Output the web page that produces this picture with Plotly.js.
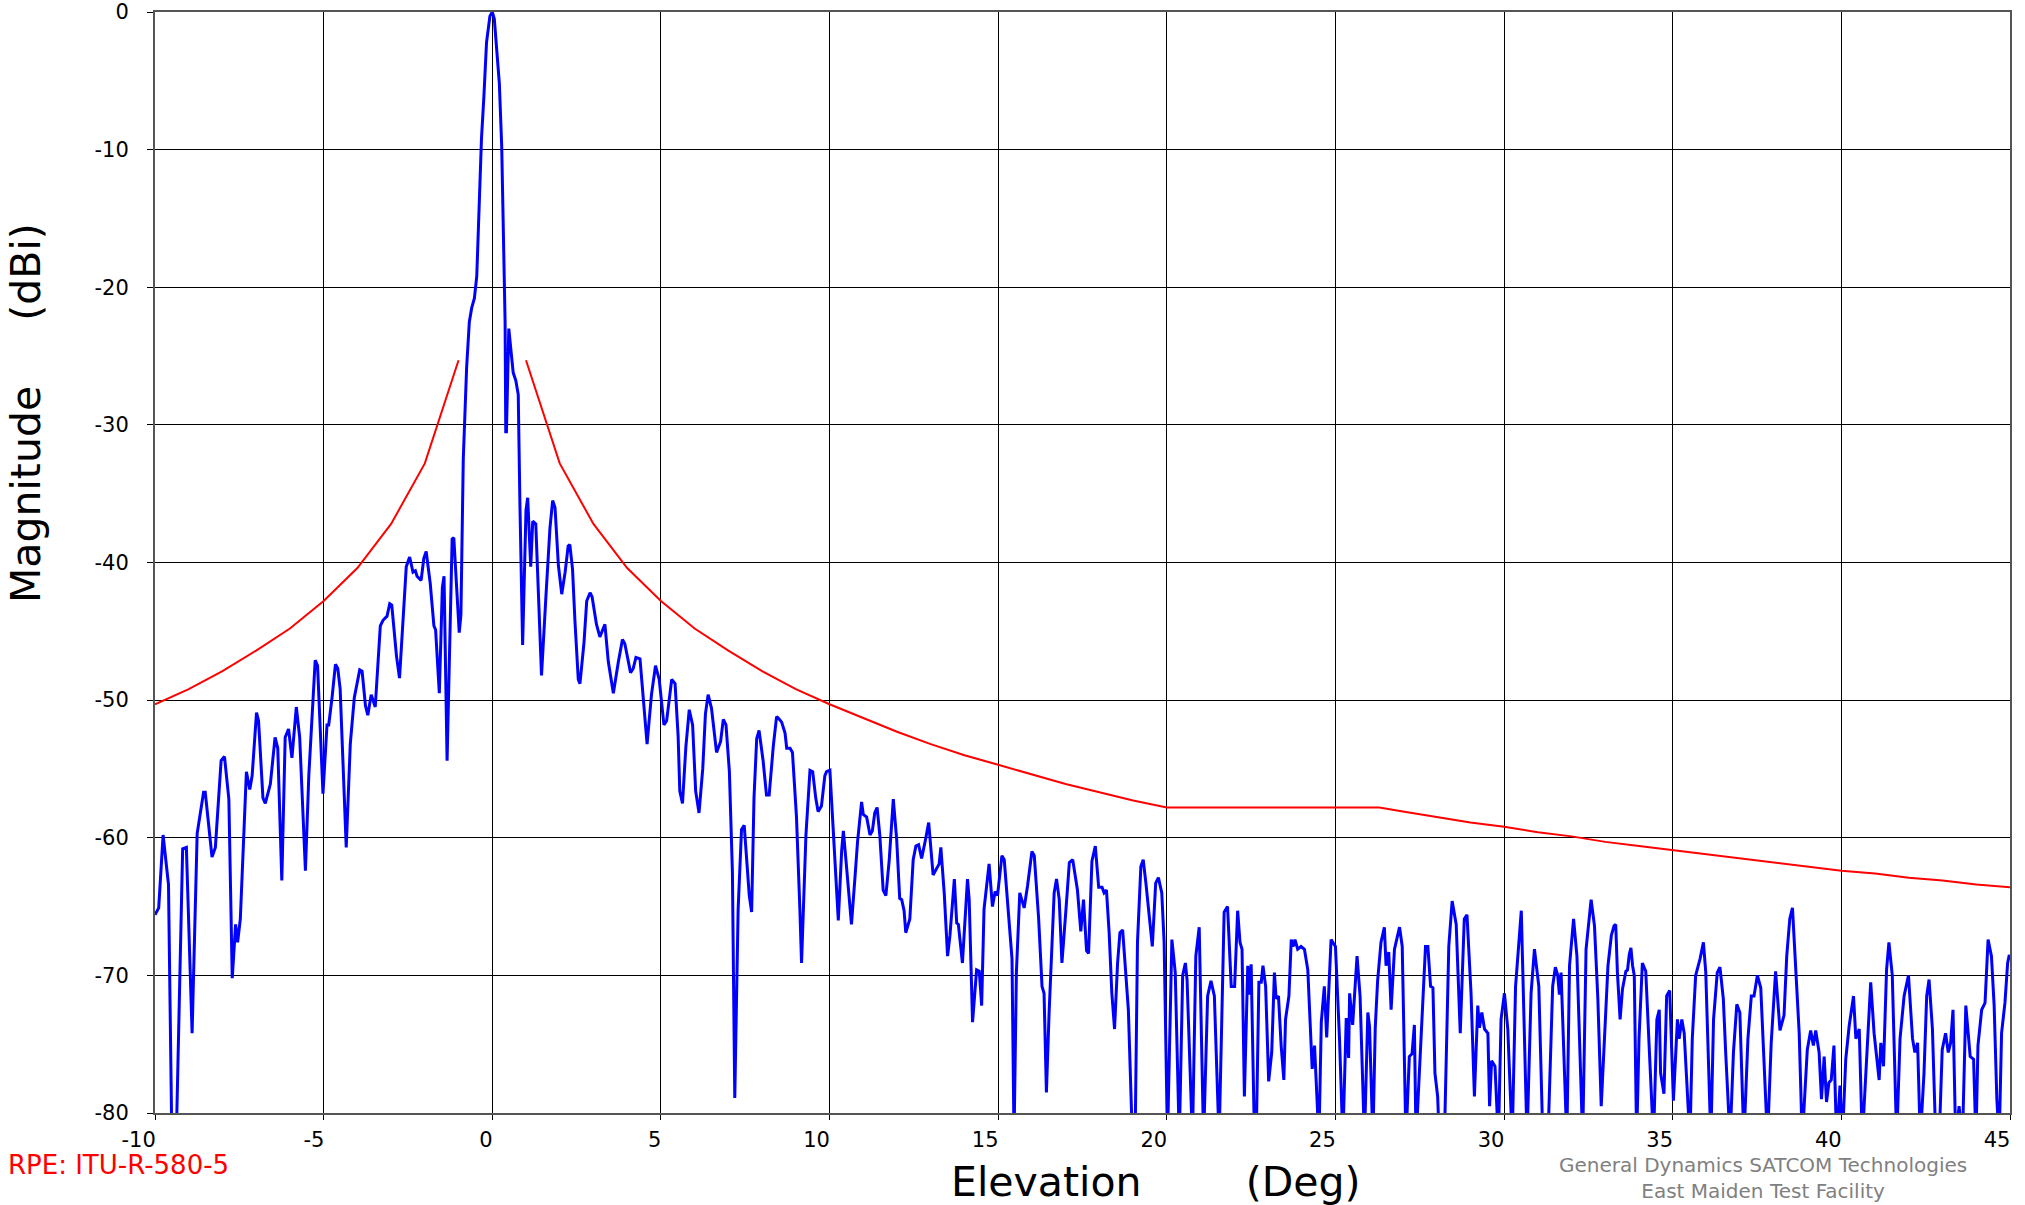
<!DOCTYPE html>
<html>
<head>
<meta charset="utf-8">
<script src="https://cdn.plot.ly/plotly-3.0.1.min.js"></script>
<style>
  html, body { margin: 0; padding: 0; background: #ffffff; }
  #chart { width: 2025px; height: 1205px; }
</style>
</head>
<body>
<div id="chart"></div>
<script>
const patternA = [[-10.0,-65.6],[-9.89,-65.1],[-9.76,-59.8],[-9.60,-63.4],[-9.50,-82],[-9.37,-82],[-9.18,-60.8],[-9.07,-60.7],[-8.90,-74.2],[-8.75,-59.7],[-8.56,-56.7],[-8.51,-56.7],[-8.31,-61.4],[-8.21,-60.7],[-8.04,-54.4],[-7.94,-54.1],[-7.81,-57.2],[-7.71,-70.2],[-7.61,-66.3],[-7.55,-67.6],[-7.47,-65.9],[-7.29,-55.2],[-7.19,-56.5],[-7.12,-55.5],[-6.99,-50.9],[-6.93,-51.5],[-6.80,-57.1],[-6.73,-57.5],[-6.58,-56.1],[-6.44,-52.7],[-6.36,-53.5],[-6.24,-63.1],[-6.14,-52.7],[-6.04,-52.1],[-5.94,-54.2],[-5.81,-50.5],[-5.71,-52.7],[-5.54,-62.4],[-5.44,-55.5],[-5.25,-47.1],[-5.18,-47.5],[-5.02,-56.8],[-4.90,-51.8],[-4.85,-51.8],[-4.75,-49.8],[-4.65,-47.4],[-4.58,-47.7],[-4.51,-49.2],[-4.33,-60.7],[-4.21,-53.2],[-4.09,-49.8],[-3.93,-47.8],[-3.86,-47.9],[-3.76,-50.4],[-3.69,-51.1],[-3.59,-49.6],[-3.47,-50.5],[-3.32,-44.6],[-3.24,-44.2],[-3.12,-43.9],[-3.04,-43.0],[-2.98,-43.1],[-2.84,-46.8],[-2.75,-48.4],[-2.55,-40.3],[-2.45,-39.6],[-2.35,-40.7],[-2.28,-40.6],[-2.23,-41.0],[-2.11,-41.3],[-2.03,-39.7],[-1.96,-39.2],[-1.84,-41.5],[-1.73,-44.6],[-1.68,-44.9],[-1.57,-49.5],[-1.48,-41.8],[-1.43,-41.0],[-1.34,-54.4],[-1.19,-38.3],[-1.14,-38.2],[-0.98,-45.1],[-0.93,-43.8]];
const patternB = [[-0.86,-32.5],[-0.76,-25.8],[-0.68,-22.5],[-0.61,-21.5],[-0.53,-20.8],[-0.46,-19.2],[-0.39,-14.2],[-0.32,-9.2],[-0.25,-6.2],[-0.17,-2.2],[-0.07,-0.3],[0.0,0.0],[0.06,-0.5],[0.13,-2.5],[0.21,-5.2],[0.28,-9.8],[0.33,-15.8],[0.38,-22.5],[0.40,-30.5],[0.42,-30.5],[0.49,-23.0],[0.55,-24.5],[0.62,-26.2],[0.70,-26.8],[0.77,-27.8],[0.82,-35.8],[0.90,-46.0],[1.00,-36.2],[1.05,-35.3],[1.14,-40.3],[1.20,-37.0],[1.29,-37.2],[1.38,-43.5],[1.46,-48.2],[1.59,-42.5],[1.71,-37.5],[1.79,-35.5],[1.86,-36.0],[1.96,-40.2],[2.06,-42.3],[2.16,-40.7],[2.25,-38.8],[2.30,-38.7],[2.38,-40.5],[2.45,-44.2],[2.55,-48.5],[2.60,-48.8],[2.72,-45.8],[2.80,-42.8],[2.90,-42.2],[2.96,-42.5],[3.09,-44.5]];
const patternC = [[3.19,-45.4],[3.34,-44.5],[3.44,-47.2],[3.59,-49.5],[3.74,-47.2],[3.86,-45.6],[3.93,-45.9],[4.10,-48.0],[4.18,-47.7],[4.26,-46.9],[4.38,-47.0],[4.48,-50.1],[4.59,-53.2],[4.72,-49.6],[4.84,-47.5],[4.95,-48.5],[5.09,-51.8],[5.17,-51.5],[5.32,-48.5],[5.42,-48.8],[5.51,-52.6],[5.56,-56.6],[5.64,-57.5],[5.74,-53.4],[5.84,-50.7],[5.94,-51.8],[6.03,-56.6],[6.13,-58.2],[6.24,-55.0],[6.32,-51.0],[6.40,-49.6],[6.50,-50.6],[6.57,-52.3],[6.65,-53.8],[6.77,-53.0],[6.85,-51.4],[6.93,-51.8],[7.03,-55.2],[7.12,-62.5],[7.19,-78.9],[7.29,-65.2],[7.39,-59.4],[7.47,-59.1],[7.54,-61.2],[7.62,-64.2],[7.69,-65.4],[7.76,-57.1],[7.84,-52.8],[7.91,-52.2],[8.03,-54.4],[8.13,-56.9],[8.21,-56.9],[8.33,-53.4],[8.43,-51.2],[8.48,-51.3],[8.58,-51.6],[8.68,-52.4],[8.73,-53.5],[8.83,-53.5],[8.90,-53.8],[9.02,-58.5],[9.12,-65.2],[9.17,-69.1],[9.30,-59.8],[9.42,-55.1],[9.50,-55.2],[9.59,-57.1],[9.66,-58.1],[9.76,-57.7],[9.86,-55.5],[9.91,-55.2],[10.01,-55.1],[10.11,-59.8],[10.26,-66.0],[10.36,-60.9],[10.41,-59.5],[10.50,-62.0],[10.58,-64.1],[10.65,-66.3],[10.75,-63.0],[10.83,-60.3],[10.95,-57.4],[11.00,-58.3],[11.10,-58.5],[11.20,-59.8],[11.27,-59.5],[11.34,-58.2],[11.41,-57.8],[11.49,-59.8],[11.59,-63.8],[11.67,-64.2]];
const patternD = [[11.77,-61.6],[11.89,-57.2],[11.99,-60.1],[12.08,-64.4],[12.14,-64.5],[12.21,-65.3],[12.26,-66.9],[12.38,-65.9],[12.48,-61.6],[12.56,-60.6],[12.64,-60.5],[12.73,-61.5],[12.84,-60.2],[12.94,-58.9],[13.07,-62.7],[13.25,-61.9],[13.30,-60.7],[13.40,-64.0],[13.50,-68.6],[13.57,-67.1],[13.70,-63.0],[13.77,-66.2],[13.82,-66.3],[13.94,-69.1],[14.09,-63.0],[14.14,-64.5],[14.24,-73.4],[14.36,-69.6],[14.44,-69.7],[14.51,-72.2],[14.58,-65.2],[14.73,-61.9],[14.83,-65.0],[14.91,-63.9],[14.98,-64.2],[15.11,-61.3],[15.18,-61.6],[15.33,-65.9],[15.41,-68.8],[15.47,-82],[15.54,-69.8],[15.64,-64.0],[15.77,-65.1],[15.87,-63.5],[16.00,-61.0],[16.07,-61.3],[16.20,-65.9],[16.30,-70.8],[16.36,-71.3],[16.43,-78.5],[16.51,-72.7],[16.66,-64.0],[16.73,-63.0],[16.81,-64.5],[16.89,-69.1],[17.01,-65.2],[17.11,-61.8],[17.21,-61.6],[17.35,-63.8],[17.45,-66.8],[17.53,-64.5],[17.62,-68.2],[17.68,-68.4],[17.78,-61.7],[17.88,-60.6],[17.98,-63.6],[18.08,-63.6],[18.14,-64.0],[18.21,-63.8],[18.29,-66.9],[18.37,-71.3],[18.45,-73.9],[18.54,-69.1],[18.61,-66.9],[18.69,-66.7],[18.86,-72.5],[18.98,-82],[19.06,-82],[19.13,-67.6],[19.23,-62.1],[19.30,-61.6],[19.38,-63.3],[19.45,-65.0],[19.57,-67.9],[19.67,-63.3],[19.75,-62.9],[19.85,-64.0],[19.92,-67.6],[20.02,-82],[20.15,-67.4],[20.25,-69.8],[20.37,-82],[20.47,-70.0],[20.55,-69.1],[20.60,-70.3],[20.76,-82],[20.86,-68.6],[20.96,-66.5],[21.09,-82],[21.21,-71.5],[21.31,-70.4],[21.41,-71.5],[21.55,-82],[21.70,-65.4],[21.80,-65.0]];
const patternE = [[21.91,-70.8],[22.01,-70.8],[22.10,-65.3],[22.17,-67.6],[22.23,-68.1],[22.30,-78.8],[22.40,-69.3],[22.45,-71.4],[22.50,-69.2],[22.60,-82],[22.65,-82],[22.73,-70.5],[22.80,-70.5],[22.85,-69.3],[22.93,-70.8],[23.02,-77.7],[23.11,-75.6],[23.19,-69.8],[23.24,-71.7],[23.31,-71.5],[23.39,-75.1],[23.47,-77.6],[23.52,-73.2],[23.62,-71.5],[23.69,-67.4],[23.74,-67.9],[23.80,-67.4],[23.88,-68.1],[23.98,-67.9],[24.08,-68.1],[24.18,-69.6],[24.31,-76.8],[24.38,-75.1],[24.51,-82],[24.58,-73.4],[24.67,-70.8],[24.74,-74.5],[24.87,-67.4],[25.00,-67.9],[25.12,-74.6],[25.22,-82],[25.32,-73.1],[25.39,-76.0],[25.42,-71.3],[25.51,-73.6],[25.64,-68.6],[25.73,-71.5],[25.86,-82],[25.96,-72.7],[26.01,-73.7],[26.11,-82],[26.18,-73.8],[26.25,-70.4],[26.35,-67.6],[26.45,-66.5],[26.50,-69.3],[26.58,-68.3],[26.65,-72.5],[26.75,-68.1],[26.90,-66.5],[26.98,-67.9],[27.09,-82],[27.19,-75.9],[27.27,-75.7],[27.34,-73.6],[27.39,-82],[27.51,-75.6],[27.67,-67.9],[27.74,-67.9],[27.82,-70.8],[27.89,-70.9],[27.95,-77.1],[28.03,-78.8],[28.08,-82],[28.23,-82],[28.36,-67.9],[28.46,-64.6],[28.58,-66.3],[28.70,-74.2],[28.82,-65.9],[28.90,-65.6],[29.02,-71.3],[29.12,-78.8],[29.22,-72.2],[29.27,-73.8],[29.34,-72.7],[29.42,-73.9],[29.52,-74.2],[29.57,-79.5],[29.63,-76.2],[29.73,-76.6],[29.83,-82],[29.91,-73.2],[30.01,-71.3],[30.11,-73.9],[30.24,-82],[30.34,-70.8],[30.51,-65.3],[30.68,-82],[30.80,-71.3],[30.90,-68.1],[31.03,-70.8],[31.15,-82],[31.30,-82],[31.44,-70.8],[31.52,-69.4],[31.59,-70.0],[31.64,-71.4],[31.69,-69.8],[31.86,-82],[31.94,-69.3],[32.06,-65.9],[32.16,-68.6],[32.33,-82],[32.43,-68.1],[32.58,-64.5],[32.68,-66.4],[32.78,-71.7],[32.88,-79.5],[32.98,-74.6],[33.08,-69.3],[33.18,-67.1]];
const patternF = [[33.26,-66.4],[33.31,-66.3],[33.36,-69.8],[33.44,-73.2],[33.51,-71.0],[33.61,-69.7],[33.66,-69.6],[33.71,-68.5],[33.76,-68.0],[33.81,-69.3],[33.86,-70.0],[33.93,-82],[34.00,-74.6],[34.10,-69.1],[34.20,-69.7],[34.30,-75.1],[34.43,-82],[34.53,-73.2],[34.60,-72.5],[34.64,-77.1],[34.74,-78.6],[34.82,-71.5],[34.91,-71.1],[35.02,-79.1],[35.14,-73.2],[35.19,-74.6],[35.27,-73.2],[35.34,-74.2],[35.43,-78.3],[35.51,-82],[35.58,-74.6],[35.68,-70.0],[35.81,-68.8],[35.91,-67.6],[35.98,-69.8],[36.13,-82],[36.21,-73.2],[36.32,-69.8],[36.40,-69.4],[36.50,-71.7],[36.57,-75.6],[36.70,-82],[36.80,-75.6],[36.90,-72.1],[36.99,-72.7],[37.11,-82],[37.23,-74.6],[37.33,-71.5],[37.41,-71.5],[37.51,-70.0],[37.61,-70.9],[37.69,-75.4],[37.81,-82],[37.92,-74.9],[38.05,-69.7],[38.18,-74.0],[38.30,-72.9],[38.38,-68.6],[38.47,-65.9],[38.55,-65.1],[38.65,-69.8],[38.75,-74.2],[38.84,-82],[38.91,-79.0],[38.99,-75.4],[39.09,-74.0],[39.17,-75.1],[39.24,-74.0],[39.34,-75.6],[39.41,-79.0],[39.49,-75.9],[39.56,-79.2],[39.63,-77.8],[39.70,-77.6],[39.78,-75.1],[39.86,-82],[39.96,-78.0],[40.03,-82],[40.13,-76.1],[40.23,-73.7],[40.36,-71.5],[40.43,-74.6],[40.53,-73.9],[40.62,-82],[40.75,-75.6],[40.87,-70.5],[40.97,-74.2],[41.12,-77.6],[41.17,-74.9],[41.25,-76.6],[41.34,-69.6],[41.41,-67.6],[41.51,-70.0],[41.64,-82],[41.74,-74.6],[41.86,-71.5],[41.99,-70.0],[42.11,-74.6],[42.18,-75.6],[42.26,-74.9],[42.34,-82],[42.45,-77.1],[42.53,-71.5],[42.60,-70.3],[42.70,-73.9],[42.80,-82],[42.90,-82],[42.99,-75.4],[43.09,-74.2],[43.17,-75.6],[43.24,-74.9],[43.31,-72.5],[43.39,-82],[43.49,-79.5],[43.59,-82],[43.69,-72.2],[43.82,-75.9],[43.92,-76.1],[43.99,-82],[44.05,-75.1],[44.16,-72.5],[44.26,-72.0],[44.35,-67.4],[44.45,-68.6],[44.53,-72.2],[44.61,-79.0],[44.68,-82],[44.75,-74.2],[44.85,-72.0],[44.93,-69.1],[44.98,-68.5]];

// ITU-R 580-5 envelope (RPE)
const maskLeftX = [-10, -9, -8, -7, -6, -5, -4, -3, -2, -1];
const maskLeftY = [-50.3, -49.2, -47.9, -46.4, -44.8, -42.8, -40.4, -37.2, -32.8, -25.3];
const maskRightX = [1, 2, 3, 4, 5, 6, 7, 8, 9, 10, 11, 12, 13, 14, 15, 16, 17, 18, 19, 20, 26.3, 27, 28, 29, 30, 31, 32, 33, 34, 35, 36, 37, 38, 39, 40, 41, 42, 43, 44, 45];
const maskRightY = [-25.3, -32.8, -37.2, -40.4, -42.8, -44.8, -46.4, -47.9, -49.2, -50.3, -51.3, -52.3, -53.2, -54.0, -54.7, -55.4, -56.1, -56.7, -57.3, -57.8, -57.8, -58.1, -58.5, -58.9, -59.2, -59.6, -59.9, -60.3, -60.6, -60.9, -61.2, -61.5, -61.8, -62.1, -62.4, -62.6, -62.9, -63.1, -63.4, -63.6];

// Tick labels
const xTickVals = [-10, -5, 0, 5, 10, 15, 20, 25, 30, 35, 40, 45];
const xTickText = ['-10', '-5', '0', '5', '10', '15', '20', '25', '30', '35', '40', '45'];
const yTickVals = [0, -10, -20, -30, -40, -50, -60, -70, -80];
const yTickText = ['0', '-10', '-20', '-30', '-40', '-50', '-60', '-70', '-80'];

// x tick labels sit right-aligned to their grid line: a common left shift, plus
// no-break-space padding to even out the label widths
const NB = '\u00A0';
const leadPad = { '-5': 1, '0': 2, '5': 2 };
const trailPad = { '-10': 1 };
const xTickShown = xTickText.map(t => NB.repeat(leadPad[t] || 0) + t + NB.repeat(trailPad[t] || 0));

const pattern = [].concat(patternA, patternB, patternC, patternD, patternE, patternF);
const patX = pattern.map(p => p[0]);
const patY = pattern.map(p => p[1]);

const FONT = 'DejaVu Sans, Verdana, Arial, sans-serif';

const traces = [
  { x: maskLeftX, y: maskLeftY, type: 'scatter', mode: 'lines',
    line: { color: '#FF0000', width: 2 }, hoverinfo: 'skip' },
  { x: maskRightX, y: maskRightY, type: 'scatter', mode: 'lines',
    line: { color: '#FF0000', width: 2 }, hoverinfo: 'skip' },
  { x: patX, y: patY, type: 'scatter', mode: 'lines',
    line: { color: '#0000FF', width: 3 }, hoverinfo: 'skip' }
];

const layout = {
  width: 2025, height: 1205,
  margin: { l: 155, r: 15, t: 12, b: 92, pad: 0 },
  paper_bgcolor: '#ffffff', plot_bgcolor: '#ffffff',
  showlegend: false,
  xaxis: {
    range: [-10, 45], tickmode: 'array', tickvals: xTickVals, ticktext: xTickShown,
    showgrid: true, gridcolor: '#000000', gridwidth: 1,
    zeroline: false, showline: true, mirror: true, linecolor: '#555555', linewidth: 2,
    ticks: 'outside', ticklen: 5, tickcolor: '#000000',
    tickfont: { family: FONT, size: 21, color: '#000000' },
    ticklabelstandoff: 2, ticklabelshift: -13, ticklabeloverflow: 'allow'
  },
  yaxis: {
    range: [-80, 0], tickmode: 'array', tickvals: yTickVals, ticktext: yTickText,
    showgrid: true, gridcolor: '#000000', gridwidth: 1,
    zeroline: false, showline: true, mirror: true, linecolor: '#555555', linewidth: 2,
    ticks: 'outside', ticklen: 6, tickcolor: '#000000',
    tickfont: { family: FONT, size: 21, color: '#000000' },
    ticklabelstandoff: 14, ticklabeloverflow: 'allow'
  },
  annotations: [
    { xref: 'paper', yref: 'paper', x: 0.5396, y: -0.0627, xanchor: 'center', yanchor: 'middle',
      text: 'Elevation' + NB.repeat(8) + '(Deg)', showarrow: false,
      font: { family: FONT, size: 41, color: '#000000' } },
    { xref: 'paper', yref: 'paper', x: -0.0695, y: 0.6358, xanchor: 'center', yanchor: 'middle',
      text: 'Magnitude' + NB.repeat(5) + '(dBi)', textangle: -90, showarrow: false,
      font: { family: FONT, size: 41, color: '#000000' } },
    { xref: 'paper', yref: 'paper', x: -0.0803, y: -0.0472, xanchor: 'left', yanchor: 'middle',
      text: 'RPE: ITU-R-580-5', showarrow: false,
      font: { family: FONT, size: 26, color: '#FF0000' } },
    { xref: 'paper', yref: 'paper', x: 0.8666, y: -0.0590, xanchor: 'center', yanchor: 'middle',
      text: 'General Dynamics SATCOM Technologies<br>East Maiden Test Facility', align: 'center',
      showarrow: false,
      font: { family: FONT, size: 20, color: '#808080' } }
  ]
};

Plotly.newPlot('chart', traces, layout, { displayModeBar: false, staticPlot: true });
</script>
</body>
</html>
